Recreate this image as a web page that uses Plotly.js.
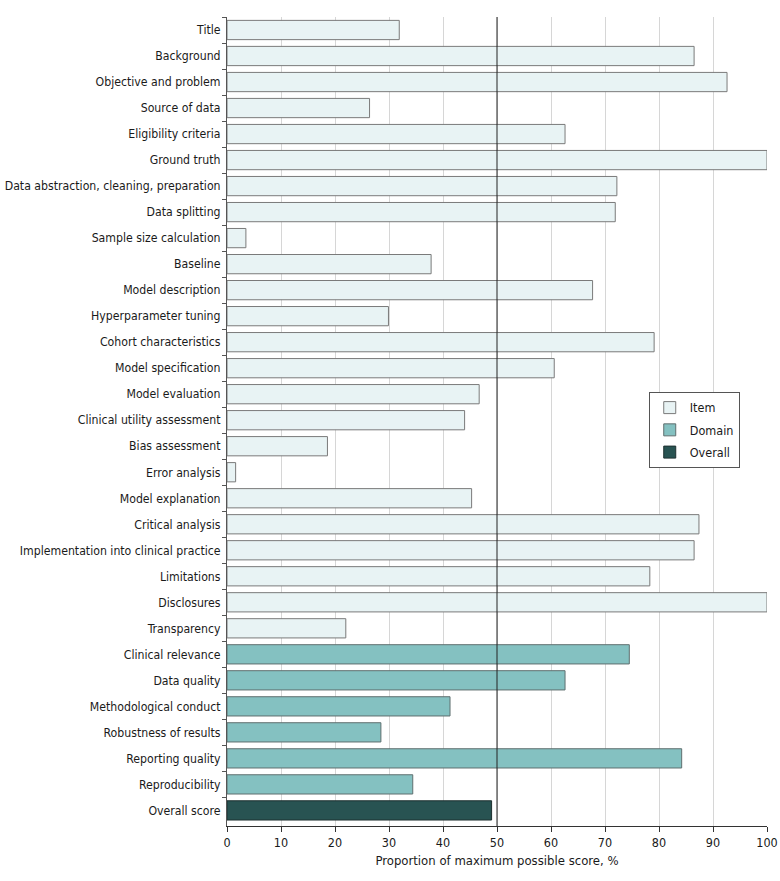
<!DOCTYPE html>
<html>
<head>
<meta charset="utf-8">
<script src="https://cdn.plot.ly/plotly-3.0.1.min.js"></script>
<style>html,body{margin:0;padding:0;background:#fff;}#chart{width:780px;height:881px;}</style>
</head>
<body>
<div id="chart"></div>
<script>
const itemLabels = ["Title","Background","Objective and problem","Source of data","Eligibility criteria","Ground truth","Data abstraction, cleaning, preparation","Data splitting","Sample size calculation","Baseline","Model description","Hyperparameter tuning","Cohort characteristics","Model specification","Model evaluation","Clinical utility assessment","Bias assessment","Error analysis","Model explanation","Critical analysis","Implementation into clinical practice","Limitations","Disclosures","Transparency"];
const itemValues = [31.9,86.5,92.6,26.4,62.6,100,72.2,71.9,3.5,37.8,67.7,29.9,79.1,60.6,46.7,44.0,18.6,1.6,45.3,87.4,86.5,78.3,100,22.0];
const domainLabels = ["Clinical relevance","Data quality","Methodological conduct","Robustness of results","Reporting quality","Reproducibility"];
const domainValues = [74.5,62.6,41.3,28.5,84.2,34.4];
const overallLabels = ["Overall score"];
const overallValues = [49.0];
const xTicks = [0,10,20,30,40,50,60,70,80,90,100];
const allLabels = itemLabels.concat(domainLabels, overallLabels);

const FONT = "'DejaVu Sans Condensed', 'Roboto', sans-serif";

const traces = [
  {type:'bar', orientation:'h', name:'Item', legendgroup:'a', x:itemValues, y:itemLabels,
   marker:{color:'#e8f3f4', line:{color:'#7a7a7a', width:1}}, hoverinfo:'x+y'},
  {type:'bar', orientation:'h', name:'Domain', legendgroup:'b', x:domainValues, y:domainLabels,
   marker:{color:'#84c1c1', line:{color:'#5f6f6f', width:1}}, hoverinfo:'x+y'},
  {type:'bar', orientation:'h', name:'Overall', legendgroup:'c', x:overallValues, y:overallLabels,
   marker:{color:'#285352', line:{color:'#1d3030', width:1}}, hoverinfo:'x+y'}
];

const layout = {
  width:780, height:881,
  margin:{l:227, r:13, t:17, b:55},
  paper_bgcolor:'#fff', plot_bgcolor:'#fff',
  font:{family:FONT, size:12.5, color:'#1a1a1a'},
  barmode:'overlay', bargap:0.26,
  showlegend:true,
  legend:{x:0.781, y:0.5365, xanchor:'left', yanchor:'top', bgcolor:'#fff',
          bordercolor:'#555', borderwidth:1, font:{family:FONT, size:12.5, color:'#1a1a1a'},
          traceorder:'grouped', tracegroupgap:3, itemwidth:30},
  xaxis:{range:[0,100], tickvals:xTicks, ticktext:xTicks.map(String),
         showgrid:true, gridcolor:'#d6d6d6', gridwidth:1, zeroline:false,
         showline:true, linecolor:'#333', linewidth:1,
         ticks:'outside', ticklen:5, tickcolor:'#333',
         tickfont:{family:FONT, size:12.5, color:'#1a1a1a'},
         title:{text:'Proportion of maximum possible score, %', font:{family:FONT, size:13, color:'#1a1a1a'}, standoff:6},
         fixedrange:true},
  yaxis:{type:'category', categoryorder:'array', categoryarray:allLabels,
         range:[30.6,-0.5], showgrid:false, zeroline:false,
         showline:true, linecolor:'#555', linewidth:1,
         ticks:'outside', ticklen:4, tickcolor:'#555', tickson:'boundaries',
         ticklabelstandoff:3,
         tickfont:{family:FONT, size:12.2, color:'#1a1a1a'}, fixedrange:true},
  shapes:[{type:'line', xref:'x', yref:'paper', x0:50, x1:50, y0:0, y1:1,
           line:{color:'#222', width:1}, layer:'above'}]
};

Plotly.newPlot('chart', traces, layout, {displayModeBar:false, staticPlot:true});
</script>
</body>
</html>
